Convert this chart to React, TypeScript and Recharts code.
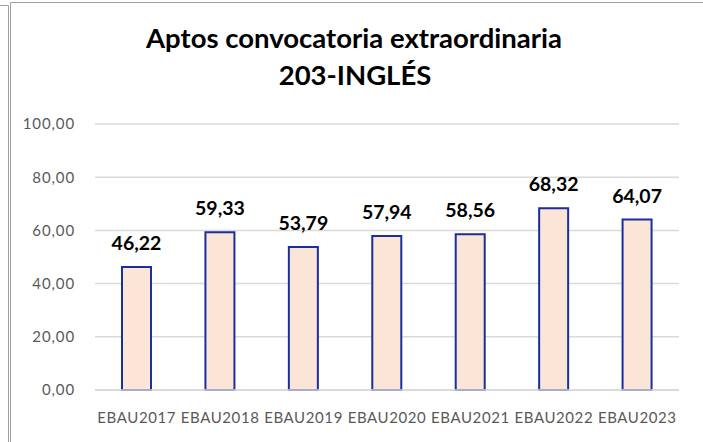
import React from "react";
import { BarChart, Bar, XAxis, YAxis, CartesianGrid, LabelList } from "recharts";

const categories = ["EBAU2017", "EBAU2018", "EBAU2019", "EBAU2020", "EBAU2021", "EBAU2022", "EBAU2023"];
const aptos = [46.22, 59.33, 53.79, 57.94, 58.56, 68.32, 64.07];
const yTicks = [0, 20, 40, 60, 80, 100];
const titleLines = ["Aptos convocatoria extraordinaria", "203-INGLÉS"];

const data = categories.map((c, i) => ({ name: c, value: aptos[i] }));

const fmt = (v: number) => v.toFixed(2).replace(".", ",");

const XTick = (props: any) => {
  const { x, y, payload } = props;
  return (
    <text x={x} y={y} dy={33} textAnchor="middle" fill="#595959" fontFamily="Lato" fontSize={15} letterSpacing={0.6}>
      {payload.value}
    </text>
  );
};

const YTick = (props: any) => {
  const { x, y, payload } = props;
  return (
    <text x={x} y={y} dy="0.355em" textAnchor="end" fill="#595959" fontFamily="Lato" fontSize={15} letterSpacing={0.9}>
      {fmt(payload.value)}
    </text>
  );
};

export default function App() {
  return (
    <div style={{ position: "absolute", left: 0, top: 0, width: 703, height: 442, background: "#fff" }}>
      <BarChart
        width={703}
        height={442}
        data={data}
        margin={{ top: 124, right: 24, bottom: 22, left: 0 }}
        barCategoryGap={27}
      >
        <CartesianGrid vertical={false} stroke="#d9d9d9" strokeWidth={1.5} />
        <XAxis
          dataKey="name"
          height={30}
          tickLine={false}
          axisLine={{ stroke: "#d9d9d9", strokeWidth: 1.5 }}
          tickSize={0}
          tickMargin={0}
          interval={0}
          tick={<XTick />}
        />
        <YAxis
          width={95}
          domain={[0, 100]}
          ticks={yTicks}
          tickLine={false}
          axisLine={false}
          tickSize={0}
          tickMargin={20}
          tick={<YTick />}
        />
        <Bar dataKey="value" fill="#FBE5D6" stroke="#1a2ea0" strokeWidth={2} isAnimationActive={false}>
          <LabelList
            dataKey="value"
            position="top"
            offset={17}
            formatter={(v: any) => fmt(Number(v))}
            style={{ fontFamily: "Lato", fontWeight: 700, fontSize: 19.5, fill: "#000" }}
          />
        </Bar>
      </BarChart>
      <svg width={703} height={442} style={{ position: "absolute", left: 0, top: 0, pointerEvents: "none" }}>
        <line x1={0} y1={5.5} x2={8.5} y2={5.5} stroke="#a0a0a0" strokeWidth={1} />
        <line x1={8.5} y1={5.5} x2={8.5} y2={442} stroke="#a0a0a0" strokeWidth={1} />
        <line x1={10.5} y1={2.5} x2={703} y2={2.5} stroke="#a0a0a0" strokeWidth={1} />
        <line x1={10.5} y1={2.5} x2={10.5} y2={442} stroke="#a0a0a0" strokeWidth={1} />
        <text x={354} y={47.5} textAnchor="middle" fontFamily="Lato" fontWeight={700} fontSize={27.5} fill="#000">
          {titleLines[0]}
        </text>
        <text x={355} y={85} textAnchor="middle" fontFamily="Lato" fontWeight={700} fontSize={27.5} fill="#000">
          {titleLines[1]}
        </text>
      </svg>
    </div>
  );
}
